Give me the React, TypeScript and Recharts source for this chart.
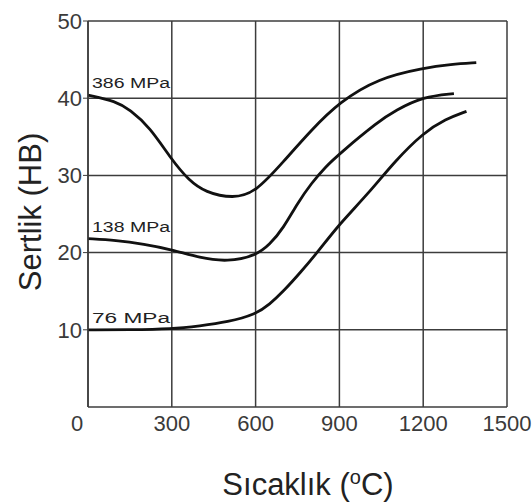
import React from "react";
import { LineChart, Line, XAxis, YAxis, CartesianGrid, LabelList } from "recharts";

const xTicks = [0, 300, 600, 900, 1200, 1500];
const yTicks = [10, 20, 30, 40, 50];

const temps386 = [0, 100, 150, 220, 300, 360, 420, 520, 600, 700, 800, 900, 1040, 1200, 1300, 1390];
const hb386 = [40.4, 39.6, 38.5, 36.3, 32.0, 29.4, 27.8, 27.0, 27.8, 31.8, 35.9, 39.5, 42.6, 43.9, 44.4, 44.6];

const temps138 = [0, 100, 200, 300, 400, 500, 600, 650, 700, 750, 800, 850, 900, 1040, 1100, 1200, 1310];
const hb138 = [21.8, 21.6, 21.1, 20.4, 19.3, 18.8, 19.6, 21.0, 23.2, 26.4, 29.0, 31.1, 32.8, 37.0, 38.4, 40.2, 40.6];

const temps76 = [0, 150, 300, 400, 500, 600, 650, 700, 760, 823, 900, 1000, 1100, 1200, 1280, 1355];
const hb76 = [10.0, 10.0, 10.1, 10.5, 11.0, 12.0, 13.3, 15.0, 17.4, 20.1, 23.7, 27.5, 31.9, 35.5, 37.3, 38.3];

const seriesNames = ["386 MPa", "138 MPa", "76 MPa"];

const toRows = (t: number[], v: number[]) => t.map((x, i) => ({ t: x, hb: v[i] }));
const series = [
  { name: seriesNames[0], data: toRows(temps386, hb386) },
  { name: seriesNames[1], data: toRows(temps138, hb138) },
  { name: seriesNames[2], data: toRows(temps76, hb76) },
];

const FONT = "Arial, 'Liberation Sans', sans-serif";

const XTick = (props: any) => {
  const { x, y, payload } = props;
  const shift = payload.value === 0 ? -11 : 0;
  return (
    <text x={x + shift} y={y} dy="0.71em" textAnchor="middle" fontSize={22} fill="#3a3a3a" fontFamily={FONT}>
      {payload.value}
    </text>
  );
};

const makeLabel = (name: string) => (props: any) => {
  const { x, y, index } = props;
  if (index !== 0) return null;
  return (
    <text x={x + 4} y={y - 7} fontSize={14} fill="#222" fontFamily={FONT} textLength={78} lengthAdjust="spacingAndGlyphs">
      {name}
    </text>
  );
};

export default function App() {
  return (
    <div style={{ position: "absolute", left: 0, top: 0, background: "#fff" }}>
      <LineChart width={532} height={503} margin={{ top: 21, right: 25, bottom: 66, left: 8 }}>
        <CartesianGrid stroke="#3c3c3c" strokeWidth={1.5} horizontalValues={yTicks} verticalValues={xTicks} />
        <XAxis
          type="number"
          dataKey="t"
          domain={[0, 1500]}
          ticks={xTicks}
          height={30}
          tick={<XTick />}
          tickLine={false}
          axisLine={{ stroke: "#3c3c3c", strokeWidth: 1.5 }}
          allowDuplicatedCategory={false}
        />
        <YAxis
          type="number"
          domain={[0, 50]}
          ticks={yTicks}
          width={80}
          tickSize={5}
          tickMargin={1}
          tickLine={{ stroke: "#3c3c3c" }}
          axisLine={{ stroke: "#3c3c3c", strokeWidth: 1.5 }}
          tick={{ fontSize: 22, fill: "#3a3a3a", fontFamily: FONT }}
        />
        {series.map((s) => (
          <Line
            key={s.name}
            data={s.data}
            dataKey="hb"
            type="basis"
            stroke="#111"
            strokeWidth={2.8}
            dot={false}
            isAnimationActive={false}
          >
            <LabelList dataKey="hb" content={makeLabel(s.name)} />
          </Line>
        ))}
        <text x={308} y={495} textAnchor="middle" fontSize={31} fill="#222" fontFamily={FONT}>
          Sıcaklık (<tspan fontSize={20} dy={-11}>o</tspan><tspan dy={11}>C)</tspan>
        </text>
        <text
          x={0}
          y={0}
          transform="translate(41 212) rotate(-90)"
          textAnchor="middle"
          fontSize={31}
          fill="#222"
          fontFamily={FONT}
        >
          Sertlik (HB)
        </text>
      </LineChart>
    </div>
  );
}
